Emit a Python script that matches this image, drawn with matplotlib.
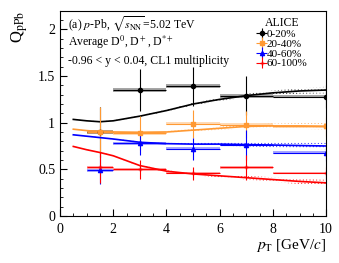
import numpy as np
import matplotlib
matplotlib.use('Agg')
from matplotlib import pyplot as plt
from matplotlib.patches import Rectangle

plt.rcParams['font.family'] = ['Liberation Serif', 'DejaVu Serif']
plt.rcParams['mathtext.fontset'] = 'stix'
plt.rcParams['hatch.linewidth'] = 0.4

# data points (pT bins)
pt = [1.5, 3, 5, 7, 10]
pt_lo = [0.5, 1, 1, 1, 2]
pt_hi = [0.5, 1, 1, 1, 2]

q_0_20 = [0.90, 1.35, 1.39, 1.29, 1.28]
stat_0_20 = [0.27, 0.23, 0.21, 0.21, 0.12]
sys_0_20 = [0.02, 0.02, 0.02, 0.02, 0.02]

q_20_40 = [0.90, 0.89, 0.99, 0.98, 0.96]
stat_20_40 = [0.27, 0.18, 0.15, 0.14, 0.10]
sys_20_40 = [0.02, 0.02, 0.02, 0.02, 0.02]

q_40_60 = [0.49, 0.78, 0.72, 0.76, 0.68]
stat_40_60 = [0.15, 0.13, 0.12, 0.16, 0.09]
sys_40_60 = [0.015, 0.015, 0.015, 0.015, 0.015]

q_60_100 = [0.52, 0.50, 0.46, 0.52, 0.46]
stat_60_100 = [0.17, 0.10, 0.07, 0.13, 0.07]
sys_60_100 = [0.02, 0.015, 0.015, 0.015, 0.015]

# model curves
pt_model = [0.5, 1, 1.5, 2, 3, 4, 5, 6, 7, 8, 9, 10]
m_0_20 = [1.035, 1.02, 1.01, 1.02, 1.07, 1.13, 1.20, 1.25, 1.29, 1.32, 1.34, 1.35]
m_20_40 = [0.93, 0.915, 0.905, 0.90, 0.895, 0.90, 0.92, 0.94, 0.96, 0.965, 0.965, 0.96]
m_40_60 = [0.87, 0.855, 0.84, 0.825, 0.79, 0.775, 0.77, 0.77, 0.765, 0.76, 0.755, 0.75]
m_60_100 = [0.745, 0.71, 0.68, 0.645, 0.54, 0.48, 0.45, 0.43, 0.41, 0.39, 0.37, 0.355]
m_width = [0.003, 0.004, 0.005, 0.006, 0.008, 0.01, 0.013, 0.017, 0.02, 0.025, 0.03, 0.035]

labels = ['0-20%', '20-40%', '40-60%', '60-100%']
colors = ['black', '#ff9933', '#0000ff', '#ff0000']
markers = ['o', 's', '^', '+']

fig = plt.figure(figsize=(3.39, 2.63), dpi=100)
ax = fig.add_axes([0.177, 0.179, 0.785, 0.78])

series = [(q_0_20, stat_0_20, sys_0_20, m_0_20),
          (q_20_40, stat_20_40, sys_20_40, m_20_40),
          (q_40_60, stat_40_60, sys_40_60, m_40_60),
          (q_60_100, stat_60_100, sys_60_100, m_60_100)]

xm = np.array(pt_model)
wm = np.array(m_width)
handles = []
for (q, st, sy, m), c, mk, lab in zip(series, colors, markers, labels):
    m = np.array(m)
    ax.fill_between(xm, m - wm, m + wm, facecolor='none', edgecolor=c,
                    hatch='.....', linewidth=0, alpha=0.7)
    ax.plot(xm, m, color=c, lw=1.2)
    for x, lo, hi, y, s in zip(pt, pt_lo, pt_hi, q, sy):
        ax.add_patch(Rectangle((x - lo, y - s), lo + hi, 2 * s,
                               facecolor=c, edgecolor='none', alpha=0.35))
    h = ax.errorbar(pt, q, xerr=[pt_lo, pt_hi], yerr=st, fmt=mk, color=c,
                    ms=3, elinewidth=0.8, capsize=0, label=lab, mew=1)
    handles.append(h)

ax.set_xlim(0, 10)
ax.set_ylim(0, 2.2)
ax.set_xticks([0, 2, 4, 6, 8, 10])
ax.set_yticks([0, 0.5, 1, 1.5, 2])
ax.set_yticklabels(['0', '0.5', '1', '1.5', '2'])
ax.set_xticks(np.arange(0, 10.01, 0.5), minor=True)
ax.set_yticks(np.arange(0, 2.21, 0.1), minor=True)
ax.tick_params(which='both', direction='in', top=False, right=False, labelsize=10)
ax.tick_params(which='major', length=5)
ax.tick_params(which='minor', length=2.5)
ax.tick_params(axis='x', pad=5)

ax.set_ylabel(r'Q$_{\rm pPb}$', fontsize=12, loc='top', labelpad=6)
ax.set_xlabel(r'$p_{\rm T}$ [GeV/$c$]', fontsize=11, loc='right', labelpad=1)

ax.text(0.03, 0.937, r'(a) $p$-Pb, $\sqrt{s_{\rm NN}}$=5.02 TeV', transform=ax.transAxes,
        fontsize=8.5, va='center')
ax.text(0.03, 0.844, r'Average D$^0$, D$^+$, D$^{*+}$', transform=ax.transAxes,
        fontsize=8.5, va='center')
ax.text(0.03, 0.756, r'-0.96 < y < 0.04, CL1 multiplicity', transform=ax.transAxes,
        fontsize=8.5, va='center')

leg = ax.legend(handles=handles, labels=labels, title='ALICE', loc='upper right',
                bbox_to_anchor=(0.95, 0.995), frameon=False, fontsize=8,
                title_fontsize=8.5, handlelength=0.7, handletextpad=0.1,
                labelspacing=0.0, borderaxespad=0.3, borderpad=0.2)
leg._legend_box.sep = 0

fig.savefig('out.png', dpi=100)
